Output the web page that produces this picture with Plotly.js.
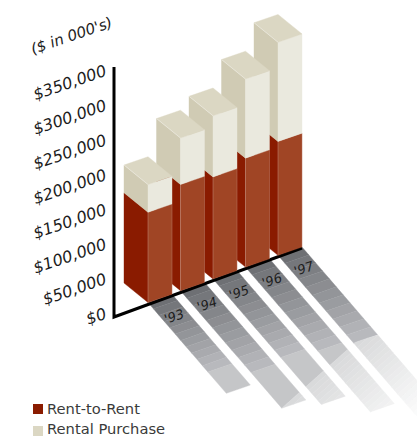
<!DOCTYPE html>
<html>
<head>
<meta charset="utf-8">
<script src="https://cdn.plot.ly/plotly-3.0.1.min.js"></script>
<style>html,body{margin:0;padding:0;background:#fff}#chart{width:417px;height:436px}</style>
</head>
<body>
<div id="chart"></div>
<script>
// Revenue in thousands of dollars, one entry per fiscal year
const years = ["'93", "'94", "'95", "'96", "'97"];
const rentToRent = [130, 153, 147, 157, 164];
const rentalPurchase = [40, 67, 88, 114, 143];
const seriesNames = ['Rent-to-Rent', 'Rental Purchase'];
const tickValues = [0, 50000, 100000, 150000, 200000, 250000, 300000, 350000];
const tickLabels = ['$0', '$50,000', '$100,000', '$150,000', '$200,000', '$250,000', '$300,000', '$350,000'];

// Oblique projection used for the bars and their floor reflections
const W = 417, H = 436;
const pxPerK = 0.694;
const zeroPx = 313;
const dollarsPerPx = 1000 / pxPerK;
const front0 = [148, 302.5], step = [32.5, -11.8];
const leftVec = [-24, -19.5], rightVec = [24, -8.3];
const reflect = 0.77, reflectSlope = 1.16;

const dataY = py => (zeroPx - py) * dollarsPerPx;
const front = i => [front0[0] + step[0] * i, front0[1] + step[1] * i];

function barPoint(i, u, v, k) {
  const f = front(i);
  return [f[0] + u * leftVec[0] + v * rightVec[0],
          f[1] + u * leftVec[1] + v * rightVec[1] - k * pxPerK];
}
function floorPoint(i, v, k) {
  const f = front(i), dy = k * pxPerK * reflect;
  return [f[0] + v * rightVec[0] + dy / reflectSlope, f[1] + v * rightVec[1] + dy];
}

const traces = [];
function poly(points, color) {
  if (points.length < 3) return;
  const pts = points.concat([points[0]]);
  traces.push({
    x: pts.map(p => p[0]), y: pts.map(p => dataY(p[1])),
    mode: 'lines', fill: 'toself', fillcolor: color,
    line: {color: color, width: 0.4}, hoverinfo: 'skip', showlegend: false
  });
}
function stroke(points, color, width) {
  traces.push({
    x: points.map(p => p[0]), y: points.map(p => dataY(p[1])),
    mode: 'lines', line: {color: color, width: width},
    hoverinfo: 'skip', showlegend: false
  });
}
// Keeps the part of a polygon where the signed distance stays within [lo, hi]
function clip(points, dist, lo, hi) {
  const side = (pts, keep) => {
    const out = [];
    pts.forEach((p, j) => {
      const q = pts[(j + 1) % pts.length];
      const a = keep(dist(p)), b = keep(dist(q));
      if (a >= 0) out.push(p);
      if ((a >= 0) !== (b >= 0)) {
        const t = a / (a - b);
        out.push([p[0] + (q[0] - p[0]) * t, p[1] + (q[1] - p[1]) * t]);
      }
    });
    return out;
  };
  return side(side(points, d => d - lo), d => hi - d);
}
const mix = (a, b, t) => 'rgb(' + a.map((c, j) => Math.round(c + (b[j] - c) * t)).join(',') + ')';

// Floor reflections: banded dark part under the first series, pale part under the second
const fadeStart = [282, 408], fadeNormal = [0.667, 0.747];
const fadeDist = p => (p[0] - fadeStart[0]) * fadeNormal[0] + (p[1] - fadeStart[1]) * fadeNormal[1];
years.forEach((_, i) => {
  const r = rentToRent[i], t = r + rentalPurchase[i];
  const bands = 11;
  for (let b = 0; b < bands; b++) {
    const k0 = r * b / bands, k1 = r * (b + 1) / bands;
    poly([floorPoint(i, 0, k0), floorPoint(i, 1, k0), floorPoint(i, 1, k1), floorPoint(i, 0, k1)],
         mix([110, 112, 116], [184, 185, 189], b / (bands - 1)));
  }
  const pale = [floorPoint(i, 0, r), floorPoint(i, 1, r), floorPoint(i, 1, t), floorPoint(i, 0, t)];
  poly(clip(pale, fadeDist, -1e4, 0), '#c5c6c8');
  const steps = 22, span = 105;
  for (let s = 0; s < steps; s++) {
    poly(clip(pale, fadeDist, span * s / steps, s === steps - 1 ? 1e4 : span * (s + 1) / steps),
         mix([217, 218, 219], [254, 254, 254], s / (steps - 1)));
  }
});

// Axis lines
stroke([[114, 67], [114, 317], [302, 248]], '#000', 3);

// Bars, painted from the rear year to the nearest so nearer ones cover the others
for (let i = years.length - 1; i >= 0; i--) {
  const r = rentToRent[i], t = r + rentalPurchase[i];
  poly([barPoint(i, 1, 0, 0), barPoint(i, 0, 0, 0), barPoint(i, 0, 0, r), barPoint(i, 1, 0, r)], '#8a1b00');
  poly([barPoint(i, 0, 0, 0), barPoint(i, 0, 1, 0), barPoint(i, 0, 1, r), barPoint(i, 0, 0, r)], '#a04525');
  poly([barPoint(i, 1, 0, r), barPoint(i, 0, 0, r), barPoint(i, 0, 0, t), barPoint(i, 1, 0, t)], '#d0cbb4');
  poly([barPoint(i, 0, 0, r), barPoint(i, 0, 1, r), barPoint(i, 0, 1, t), barPoint(i, 0, 0, t)], '#eae9de');
  poly([barPoint(i, 0, 0, t), barPoint(i, 1, 0, t), barPoint(i, 1, 1, t), barPoint(i, 0, 1, t)], '#dbd7c3');
  stroke([barPoint(i, 0, 0, 0), barPoint(i, 0, 0, r)], 'rgba(255,255,255,0.3)', 0.7);
  stroke([barPoint(i, 0, 1, 0), barPoint(i, 0, 1, r)], 'rgba(255,255,255,0.22)', 0.7);
  stroke([barPoint(i, 1, 0, t), barPoint(i, 0, 0, t)], 'rgba(255,255,255,0.55)', 0.6);
}

// Key: one square swatch per series with its name beside it
const keyColors = ['#8a1b00', '#dbd7c3'];
const swatchRows = [409, 431];
const keyRows = [410, 430];
traces.push({
  x: seriesNames.map(() => 38), y: swatchRows.map(dataY), mode: 'markers',
  marker: {symbol: 'square', size: 10, color: keyColors}, hoverinfo: 'skip', showlegend: false
});
traces.push({
  x: seriesNames.map(() => 47), y: keyRows.map(dataY), mode: 'text', text: seriesNames,
  textposition: 'middle right', cliponaxis: false, hoverinfo: 'skip', showlegend: false,
  textfont: {family: '"DejaVu Sans", Verdana, sans-serif', size: 14.7, color: '#3a3a3a'}
});

const inkFont = {family: '"DejaVu Sans", Verdana, sans-serif', color: '#1c1c1c'};
const annotations = years.map((label, i) => {
  const f = front(i);
  return {
    x: f[0] + 26, y: dataY(f[1] + 13.5), text: '<i>' + label + '</i>', showarrow: false, textangle: -19,
    font: Object.assign({size: 13}, inkFont), xanchor: 'center', yanchor: 'middle'
  };
});
annotations.push({
  x: 71, y: dataY(36), text: "<i>($ in 000's)</i>", showarrow: false, textangle: -19,
  font: Object.assign({size: 15}, inkFont), xanchor: 'center', yanchor: 'middle'
});

const layout = {
  width: W, height: H, margin: {l: 0, r: 0, t: 0, b: 0, autoexpand: false},
  paper_bgcolor: '#fff', plot_bgcolor: '#fff', showlegend: false,
  xaxis: {range: [0, W], visible: false, fixedrange: true},
  yaxis: {
    range: [dataY(H), dataY(0)], anchor: 'free', position: 114 / W,
    tickmode: 'array', tickvals: tickValues, ticktext: tickLabels.map(t => '<i>' + t + '</i>'),
    tickangle: -19, ticklabelstandoff: 9,
    tickfont: Object.assign({size: 16}, inkFont),
    showgrid: false, zeroline: false, showline: false, ticks: '', fixedrange: true
  },
  annotations: annotations
};
Plotly.newPlot('chart', traces, layout, {displayModeBar: false, staticPlot: true});
</script>
</body>
</html>
